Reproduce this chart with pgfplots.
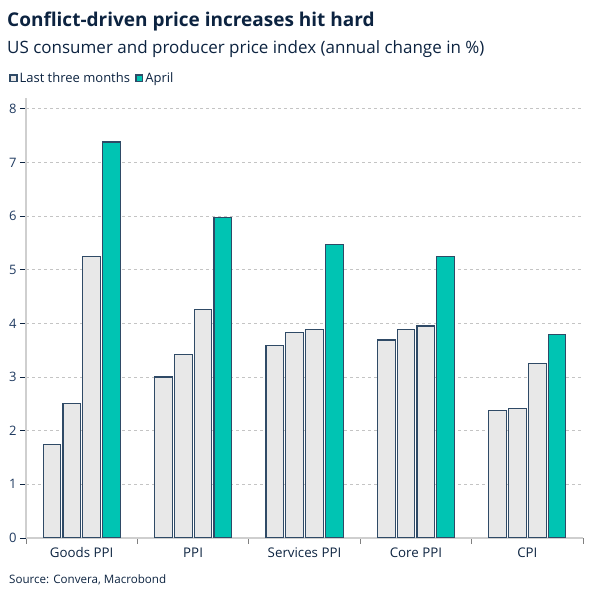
\documentclass[border=0pt]{standalone}
\usepackage{pgfplots}
\pgfplotsset{compat=1.18}
\usepackage{fontspec}
\setmainfont{Open Sans}

\definecolor{navy}{HTML}{0C2340}
\definecolor{ticktext}{HTML}{1F3A60}
\definecolor{barline}{HTML}{2F4A66}
\definecolor{greyfill}{HTML}{E8E8E8}
\definecolor{teal}{HTML}{00C4B3}
\definecolor{gridgrey}{HTML}{C4C4C4}
\definecolor{axisgrey}{HTML}{CFCFCF}

% Annual change in %, one row per index
\pgfplotstableread{
x  m1    m2    m3    apr
0  1.74  2.51  5.24  7.38
1  3.00  3.42  4.26  5.98
2  3.58  3.83  3.89  5.47
3  3.69  3.89  3.95  5.24
4  2.38  2.41  3.25  3.80
}\pricedata

\begin{document}
\begin{tikzpicture}[x=1bp,y=1bp]
\useasboundingbox (0,0) rectangle (601,601);

\node[anchor=base west, inner sep=0, text=navy,
      font=\fontsize{19bp}{22bp}\selectfont\bfseries]
  at (7,574) {Conflict-driven price increases hit hard};
\node[anchor=base west, inner sep=0, text=navy,
      font=\fontsize{17bp}{20bp}\selectfont]
  at (7,547) {US consumer and producer price index (annual change in \%)};
\node[anchor=base west, inner sep=0, text=navy,
      font=\fontsize{11.6bp}{13bp}\selectfont]
  at (9,17) {Source: Convera, Macrobond};

\begin{axis}[
  at={(26bp,63bp)}, anchor=south west,
  scale only axis,
  width=557bp, height=440bp,
  xmin=-0.5, xmax=4.5,
  ymin=0, ymax=8.2,
  ybar, bar width=17.7bp,
  axis lines*=left,
  x axis line style={draw=axisgrey, line width=1.5bp},
  y axis line style={draw=axisgrey, line width=2bp},
  % group separators carry the ticks, names sit at the group centres
  xtick={-0.5,0.5,1.5,2.5,3.5,4.5},
  xticklabels={},
  x tick style={draw=gray, line width=1bp},
  extra x ticks={0,1,2,3,4},
  extra x tick labels={Goods PPI, PPI, Services PPI, Core PPI, CPI},
  extra x tick style={major tick length=0pt,
    tick style={draw=none},
    ticklabel style={font=\fontsize{13.3bp}{15bp}\selectfont, text=navy, yshift=-6bp}},
  ytick={0,1,...,8},
  y tick style={draw=navy, line width=0.9bp},
  major tick length=6bp, tick align=outside,
  yticklabel style={font=\fontsize{13bp}{15bp}\selectfont, text=ticktext},
  ymajorgrids,
  major grid style={draw=gridgrey, line width=0.9bp, dash pattern=on 3bp off 3bp},
  /pgf/number format/assume math mode=true,
  legend style={at={(rel axis cs:-0.0305,1.045)}, anchor=west,
    draw=none, fill=none, inner sep=0pt,
    font=\fontsize{13bp}{15bp}\selectfont, text=navy,
    /tikz/every even column/.append style={column sep=3bp}},
  legend columns=-1,
  legend image code/.code={
    \draw[#1, line width=1.8bp] (0bp,-3.3bp) rectangle (6.6bp,3.3bp);},
  every axis plot/.append style={draw=barline, line width=1.1bp},
]
\addplot[fill=greyfill, bar shift=-29.7bp] table[x=x,y=m1] {\pricedata};
\addplot[fill=greyfill, bar shift=-9.9bp, forget plot] table[x=x,y=m2] {\pricedata};
\addplot[fill=greyfill, bar shift=9.9bp, forget plot] table[x=x,y=m3] {\pricedata};
\addplot[fill=teal, bar shift=29.7bp] table[x=x,y=apr] {\pricedata};
\legend{Last three months, April}
\end{axis}
\end{tikzpicture}
\end{document}
